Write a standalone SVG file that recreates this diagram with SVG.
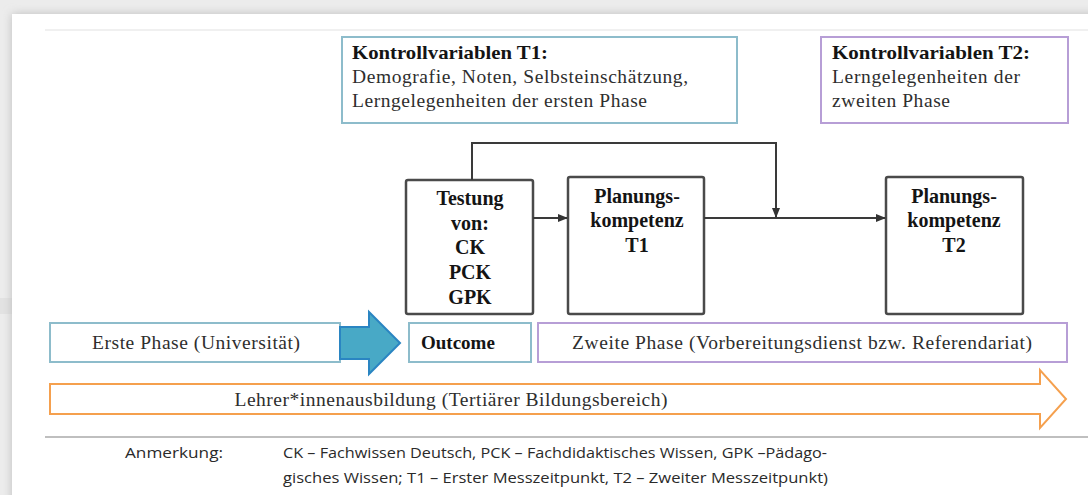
<svg xmlns="http://www.w3.org/2000/svg" width="1088" height="495" viewBox="0 0 1088 495">
  <defs>
    <filter id="shadow" x="-5%" y="-5%" width="110%" height="110%">
      <feGaussianBlur stdDeviation="5"/>
    </filter>
    <marker id="tip" viewBox="0 0 10 10" refX="9" refY="5" markerWidth="5" markerHeight="5" orient="auto" markerUnits="strokeWidth">
      <path d="M0,1 L10,5 L0,9 Z" fill="#333"/>
    </marker>
    <style>
      .serif { font-family: "Liberation Serif", "Times New Roman", serif; }
      .title { font-weight: bold; font-size: 19px; fill: #141414; }
      .body { font-size: 19.5px; fill: #2e2e2e; }
      .bold { font-weight: bold; font-size: 20px; fill: #141414; text-anchor: middle; }
      .box { fill: #fff; stroke: #4a4a4a; stroke-width: 2.5; }
      .teal { fill: #fff; stroke: #8dbccb; stroke-width: 2; }
      .violet { fill: #fff; stroke: #b79ed6; stroke-width: 2; }
      .link { fill: none; stroke: #3a3a3a; stroke-width: 2; }
      .note { font-family: "Open Sans", "Liberation Sans", sans-serif; font-size: 15px; fill: #2a2a2a; }
    </style>
  </defs>

  <!-- page background and card -->
  <rect x="0" y="0" width="1088" height="495" fill="#ececec"/>
  <rect x="0" y="298" width="12" height="16" fill="#e2e2e2"/>
  <rect x="12" y="14" width="1090" height="490" fill="#bdbdbd" filter="url(#shadow)"/>
  <rect x="12" y="14" width="1090" height="490" fill="#ffffff"/>
  <line x1="45" y1="30" x2="1088" y2="30" stroke="#f0f0f0" stroke-width="2"/>

  <!-- control variables -->
  <g id="kontrolle-t1">
    <rect class="teal" x="342" y="37" width="395" height="86"/>
    <text class="serif title" x="352" y="59" textLength="196" lengthAdjust="spacingAndGlyphs">Kontrollvariablen T1:</text>
    <text class="serif body" x="352" y="83" textLength="336" lengthAdjust="spacing">Demografie, Noten, Selbsteinschätzung,</text>
    <text class="serif body" x="352" y="107" textLength="295" lengthAdjust="spacing">Lerngelegenheiten der ersten Phase</text>
  </g>
  <g id="kontrolle-t2">
    <rect class="violet" x="821" y="37" width="247" height="86"/>
    <text class="serif title" x="832" y="59" textLength="198" lengthAdjust="spacingAndGlyphs">Kontrollvariablen T2:</text>
    <text class="serif body" x="832" y="83" textLength="188" lengthAdjust="spacing">Lerngelegenheiten der</text>
    <text class="serif body" x="832" y="107" textLength="118" lengthAdjust="spacing">zweiten Phase</text>
  </g>

  <!-- measurement boxes -->
  <g id="testung">
    <rect class="box" x="406" y="180" width="127" height="134" rx="2"/>
    <text class="serif bold" x="470" y="205">Testung</text>
    <text class="serif bold" x="470" y="230">von:</text>
    <text class="serif bold" x="470" y="254">CK</text>
    <text class="serif bold" x="470" y="279">PCK</text>
    <text class="serif bold" x="470" y="304">GPK</text>
  </g>
  <g id="planung-t1">
    <rect class="box" x="568" y="177" width="136" height="137" rx="2"/>
    <text class="serif bold" x="637" y="203">Planungs-</text>
    <text class="serif bold" x="637" y="227">kompetenz</text>
    <text class="serif bold" x="637" y="252">T1</text>
  </g>
  <g id="planung-t2">
    <rect class="box" x="886" y="177" width="137" height="137" rx="2"/>
    <text class="serif bold" x="954" y="203">Planungs-</text>
    <text class="serif bold" x="954" y="227">kompetenz</text>
    <text class="serif bold" x="954" y="252">T2</text>
  </g>

  <!-- connectors -->
  <g id="connectors">
    <line class="link" x1="533" y1="218" x2="567" y2="218" marker-end="url(#tip)"/>
    <line class="link" x1="704" y1="218" x2="885" y2="218" marker-end="url(#tip)"/>
    <polyline class="link" points="472,180 472,143 776,143 776,217" marker-end="url(#tip)"/>
  </g>

  <!-- phases -->
  <g id="erste-phase">
    <rect class="teal" x="50" y="323" width="290" height="39"/>
    <text class="serif body" x="196" y="349" text-anchor="middle" textLength="208" lengthAdjust="spacing">Erste Phase (Universität)</text>
  </g>
  <g id="uebergang">
    <polygon points="340,327 369,327 369,312 400,343 369,374 369,359 340,359" fill="#48a9c6" stroke="#2a85c2" stroke-width="2" stroke-linejoin="miter"/>
  </g>
  <g id="outcome">
    <rect class="teal" x="409" y="323" width="122" height="39"/>
    <text class="serif" x="421" y="349" font-weight="bold" font-size="19px" fill="#141414">Outcome</text>
  </g>
  <g id="zweite-phase">
    <rect class="violet" x="538" y="323" width="529" height="39"/>
    <text class="serif body" x="802" y="349" text-anchor="middle" textLength="460" lengthAdjust="spacing">Zweite Phase (Vorbereitungsdienst bzw. Referendariat)</text>
  </g>
  <g id="ausbildung">
    <polygon points="50,384 1040,384 1040,370 1066,399 1040,428 1040,414 50,414" fill="#fff" stroke="#f5a04e" stroke-width="2"/>
    <text class="serif body" x="451" y="406" text-anchor="middle" textLength="433" lengthAdjust="spacing">Lehrer*innenausbildung (Tertiärer Bildungsbereich)</text>
  </g>

  <!-- footnote -->
  <line x1="45" y1="437" x2="1088" y2="437" stroke="#aaaaaa" stroke-width="1.5"/>
  <g id="anmerkung">
    <text class="note" x="125" y="458" textLength="98" lengthAdjust="spacingAndGlyphs">Anmerkung:</text>
    <text class="note" x="283" y="458" textLength="544" lengthAdjust="spacingAndGlyphs">CK – Fachwissen Deutsch, PCK – Fachdidaktisches Wissen, GPK –Pädago-</text>
    <text class="note" x="283" y="483" textLength="545" lengthAdjust="spacingAndGlyphs">gisches Wissen; T1 – Erster Messzeitpunkt, T2 – Zweiter Messzeitpunkt)</text>
  </g>
</svg>
